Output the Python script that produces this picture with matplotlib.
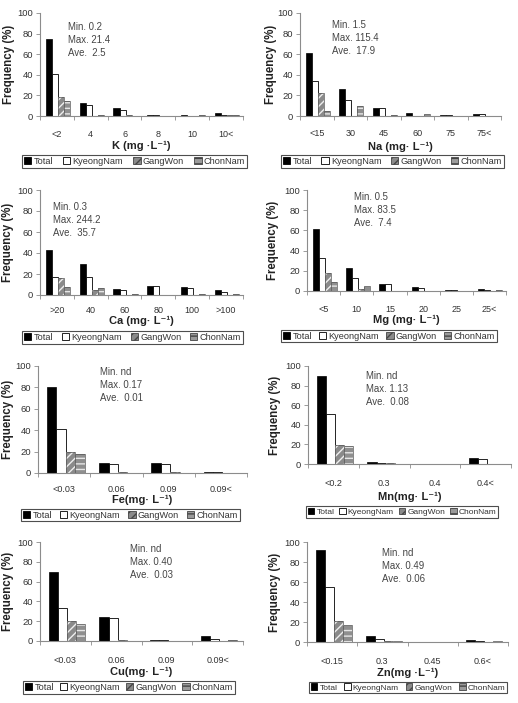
import matplotlib
matplotlib.use("Agg")
import matplotlib.pyplot as plt
from matplotlib.patches import Patch
import numpy as np

plt.rcParams['font.family'] = ['Liberation Sans', 'DejaVu Sans']

series_names = ["Total", "KyeongNam", "GangWon", "ChonNam"]

# ---- data (frequency %) ----
k_cats = ["<2", "4", "6", "8", "10", "10<"]
k_total = [75, 13, 7.5, 0.5, 0.5, 3]
k_kn = [41, 11, 6, 0.5, 0, 1]
k_gw = [18, 0, 1, 0, 0, 1]
k_cn = [15, 1, 0, 0, 0.5, 0.7]

na_cats = ["<15", "30", "45", "60", "75", "75<"]
na_total = [61, 26, 8, 2.5, 0.7, 2]
na_kn = [34, 16, 8, 0, 0.7, 2]
na_gw = [22, 0, 0, 0, 0, 0]
na_cn = [5, 10, 1, 2, 0, 0]

ca_cats = [">20", "40", "60", "80", "100", ">100"]
ca_total = [43, 30, 5.5, 9, 7.5, 4.5]
ca_kn = [17, 17, 5, 9, 7, 3]
ca_gw = [16, 5, 0, 0, 0, 0]
ca_cn = [8, 7, 1, 0, 1, 1]

mg_cats = ["<5", "10", "15", "20", "25", "25<"]
mg_total = [61, 23, 7, 3.5, 1.2, 2]
mg_kn = [33, 13, 7, 3, 1.2, 1]
mg_gw = [18, 2, 0, 0, 0, 0]
mg_cn = [9, 5, 0, 0, 0, 1]

fe_cats = ["<0.03", "0.06", "0.09", "0.09<"]
fe_total = [80, 9.5, 9, 0.7]
fe_kn = [41, 8.5, 8.5, 0.7]
fe_gw = [20, 1, 1, 0]
fe_cn = [18, 0, 0, 0]

mn_cats = ["<0.2", "0.3", "0.4", "0.4<"]
mn_total = [90, 2.5, 0, 6]
mn_kn = [51, 1.5, 0, 5]
mn_gw = [19, 1.5, 0, 0]
mn_cn = [18, 0, 0, 0]

cu_cats = ["<0.03", "0.06", "0.09", "0.09<"]
cu_total = [70, 24, 1.2, 5.5]
cu_kn = [33, 23, 1.2, 2.5]
cu_gw = [20, 1, 0, 0.5]
cu_cn = [17, 0, 0, 1]

zn_cats = ["<0.15", "0.3", "0.45", "0.6<"]
zn_total = [92, 6, 0, 2]
zn_kn = [55, 3, 0, 1]
zn_gw = [21, 1, 0, 0]
zn_cn = [17, 0.7, 0, 1]

# panel definitions (layout in pixels)
panels = [
    dict(cats=k_cats, vals=[k_total, k_kn, k_gw, k_cn], xlabel="K (mg ·L⁻¹)",
         stats="Min. 0.2\nMax. 21.4\nAve.  2.5",
         px=(40, 243, 13, 116), ylab_x=9, tick_y=133, xlab_y=146, leg=(22, 247, 154, 169), st=(68, 22)),
    dict(cats=na_cats, vals=[na_total, na_kn, na_gw, na_cn], xlabel="Na (mg· L⁻¹)",
         stats="Min. 1.5\nMax. 115.4\nAve.  17.9",
         px=(300, 501, 13, 116), ylab_x=271, tick_y=132, xlab_y=147, leg=(281, 504, 154, 169), st=(332, 20)),
    dict(cats=ca_cats, vals=[ca_total, ca_kn, ca_gw, ca_cn], xlabel="Ca (mg· L⁻¹)",
         stats="Min. 0.3\nMax. 244.2\nAve.  35.7",
         px=(40, 243, 190, 295), ylab_x=8, tick_y=309, xlab_y=321, leg=(22, 243, 330, 345), st=(53, 202)),
    dict(cats=mg_cats, vals=[mg_total, mg_kn, mg_gw, mg_cn], xlabel="Mg (mg· L⁻¹)",
         stats="Min. 0.5\nMax. 83.5\nAve.  7.4",
         px=(307, 506, 190, 291), ylab_x=273, tick_y=308, xlab_y=320, leg=(281, 497, 328, 344), st=(354, 192)),
    dict(cats=fe_cats, vals=[fe_total, fe_kn, fe_gw, fe_cn], xlabel="Fe(mg· L⁻¹)",
         stats="Min. nd\nMax. 0.17\nAve.  0.01",
         px=(38, 247, 366, 473), ylab_x=8, tick_y=488, xlab_y=500, leg=(21, 240, 507, 523), st=(100, 367)),
    dict(cats=mn_cats, vals=[mn_total, mn_kn, mn_gw, mn_cn], xlabel="Mn(mg· L⁻¹)",
         stats="Min. nd\nMax. 1.13\nAve.  0.08",
         px=(308, 511, 366, 464), ylab_x=275, tick_y=482, xlab_y=497, leg=(306, 498, 504, 520), st=(366, 371)),
    dict(cats=cu_cats, vals=[cu_total, cu_kn, cu_gw, cu_cn], xlabel="Cu(mg· L⁻¹)",
         stats="Min. nd\nMax. 0.40\nAve.  0.03",
         px=(40, 243, 542, 641), ylab_x=8, tick_y=659, xlab_y=672, leg=(23, 235, 679, 696), st=(130, 544)),
    dict(cats=zn_cats, vals=[zn_total, zn_kn, zn_gw, zn_cn], xlabel="Zn(mg ·L⁻¹)",
         stats="Min. nd\nMax. 0.49\nAve.  0.06",
         px=(307, 508, 542, 642), ylab_x=275, tick_y=660, xlab_y=673, leg=(309, 507, 679, 696), st=(382, 548)),
]

W, H = 518, 703
fig = plt.figure(figsize=(W / 100, H / 100), dpi=100)

txt_col = "#333333"
spine_col = "#8c8c8c"
bw = 0.18
offsets = [-0.24, -0.06, 0.12, 0.30]


def legend_handles():
    return [
        Patch(facecolor="black", edgecolor="black", linewidth=0.6),
        Patch(facecolor="white", edgecolor="black", linewidth=0.6),
        Patch(facecolor="#8a8a8a", edgecolor="#444444", hatch="////", linewidth=0.6),
        Patch(facecolor="#9a9a9a", edgecolor="#444444", hatch="---", linewidth=0.6),
    ]


for p in panels:
    x0, x1, yt, yb = p["px"]
    ax = fig.add_axes([x0 / W, 1 - yb / H, (x1 - x0) / W, (yb - yt) / H])
    n = len(p["cats"])
    x = np.arange(n)
    tot, kn, gw, cn = p["vals"]
    ax.bar(x + offsets[0], tot, bw, color="black", edgecolor="black", linewidth=0.5)
    ax.bar(x + offsets[1], kn, bw, color="white", edgecolor="black", linewidth=0.6)
    ax.bar(x + offsets[2], gw, bw, color="#8a8a8a", edgecolor="#eeeeee", hatch="////", linewidth=0)
    ax.bar(x + offsets[2], gw, bw, color="none", edgecolor="#555555", linewidth=0.5)
    ax.bar(x + offsets[3], cn, bw, color="#8f8f8f", edgecolor="#e6e6e6", hatch="---", linewidth=0)
    ax.bar(x + offsets[3], cn, bw, color="none", edgecolor="#555555", linewidth=0.5)

    ax.set_xlim(-0.5, n - 0.5)
    ax.set_ylim(0, 100)
    ax.set_yticks([0, 20, 40, 60, 80, 100])
    ax.tick_params(axis="y", direction="out", length=3, width=0.6, color=spine_col,
                   labelsize=6.8, labelcolor=txt_col, pad=2)
    ax.set_xticks(x)
    ax.set_xticks(np.arange(n + 1) - 0.5, minor=True)
    ax.tick_params(axis="x", which="minor", direction="out", length=3, width=0.6, color=spine_col)
    pad_pt = (p["tick_y"] - yb - 3.3) / 1.389
    ax.tick_params(axis="x", which="major", length=0, labelsize=6.5, labelcolor=txt_col, pad=pad_pt)
    ax.set_xticklabels(p["cats"])
    for s in ["top", "right"]:
        ax.spines[s].set_visible(False)
    for s in ["left", "bottom"]:
        ax.spines[s].set_color(spine_col)
        ax.spines[s].set_linewidth(0.8)

    ax.set_ylabel("Frequency (%)", fontsize=8.3, fontweight="bold", color="#222222")
    ax.yaxis.label.set_va("center")
    ax.yaxis.set_label_coords((p["ylab_x"] - x0) / (x1 - x0), 0.5)
    ax.set_xlabel(p["xlabel"], fontsize=8, fontweight="bold", color="#222222")
    ax.xaxis.label.set_va("center")
    ax.xaxis.set_label_coords(0.5, -(p["xlab_y"] - yb) / (yb - yt))

    sx, sy = p["st"]
    ax.text((sx - x0) / (x1 - x0), 1 - (sy - yt) / (yb - yt), p["stats"],
            transform=ax.transAxes, ha="left", va="top", fontsize=6.9,
            color="#444444", linespacing=1.35)

    lx0, lx1, ly0, ly1 = p["leg"]
    fs = 6.6 if (lx1 - lx0) > 205 else 6.0
    leg = fig.legend(legend_handles(), series_names, loc="center",
                     bbox_to_anchor=(lx0 / W, 1 - ly1 / H, (lx1 - lx0) / W, (ly1 - ly0) / H),
                     mode="expand", ncol=4, fontsize=fs, frameon=True, fancybox=False,
                     handlelength=0.8, handleheight=0.8, handletextpad=0.25,
                     columnspacing=0.4, borderpad=0.2, borderaxespad=0, labelcolor=txt_col)
    leg.get_frame().set_edgecolor("#222222")
    leg.get_frame().set_linewidth(0.8)

fig.savefig("out.png", dpi=100)
